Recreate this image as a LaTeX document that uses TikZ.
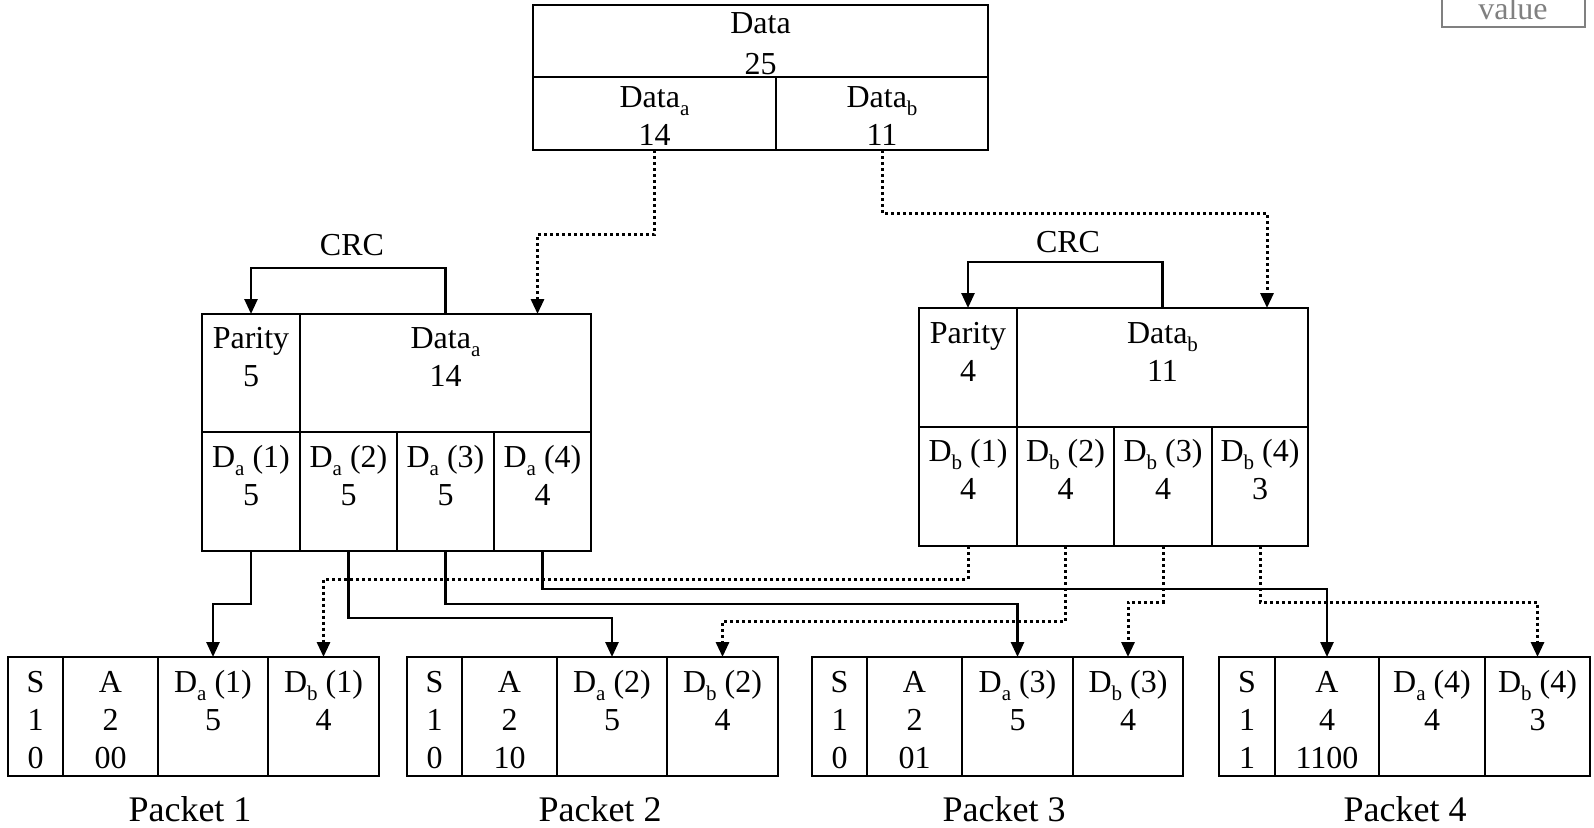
\documentclass[tikz,border=0pt]{standalone}
\usepackage{fontspec}
\setmainfont{Liberation Serif}
\usetikzlibrary{arrows.meta}

% a framed cell given by its top-left and bottom-right corners
\newcommand\cellbox[5]{\node[cell,minimum width={#4pt-#2pt},minimum height={#5pt-#3pt}] (#1) at (#2,#3) {};}
% centred cell text, placed by the baseline of its first line
\newcommand\celltext[4]{\node[txt] (#1) at (#2,#3) {\begin{tabular}[t]{@{}c@{}}#4\end{tabular}};}
% small lowered index letter
\newcommand\sbs[1]{\raisebox{-0.27em}{\fontsize{21}{21}\selectfont #1}}

\definecolor{legendgray}{HTML}{808080}

\tikzset{
  cell/.style={draw, line width=2.6pt, anchor=north west, inner sep=0pt, outer sep=0pt},
  txt/.style={anchor=base, inner sep=0pt, font=\fontsize{32}{38}\selectfont},
  pktlabel/.style={anchor=base, inner sep=0pt, font=\fontsize{36}{43}\selectfont},
  flow/.style={line width=2.6pt, -{Triangle[width=13pt,length=15pt]}},
  dots/.style={flow, line width=3pt, dash pattern=on 3pt off 3pt},
}

\begin{document}
\begin{tikzpicture}[x=1pt, y=-1pt]
\useasboundingbox (0,0) rectangle (1594,827);

% legend box in the corner
\node[draw=legendgray, line width=2pt, anchor=north west, inner sep=0pt, outer sep=0pt,
      minimum width=143pt, minimum height=34pt] (legend) at (1442,-7) {};
\node[txt, text=legendgray] (legendtext) at (1513,19) {value};

% ---- whole data block ----
\cellbox{tdata}{533}{5}{988}{77}
\cellbox{ta}{533}{77}{776}{150}
\cellbox{tb}{776}{77}{988}{150}
\celltext{tdataT}{760.5}{33}{Data\\[3pt]25}
\celltext{taT}{654.5}{107}{Data\sbs{a}\\14}
\celltext{tbT}{882}{107}{Data\sbs{b}\\11}

% ---- block a: parity + data, split in four ----
\cellbox{lp}{202}{314}{300}{432}
\cellbox{ld}{300}{314}{591}{432}
\cellbox{la1}{202}{432}{300}{551}
\cellbox{la2}{300}{432}{397}{551}
\cellbox{la3}{397}{432}{494}{551}
\cellbox{la4}{494}{432}{591}{551}
\celltext{lpT}{251}{348}{Parity\\5}
\celltext{ldT}{445.5}{348}{Data\sbs{a}\\14}
\celltext{la1T}{251}{467}{D\sbs{a} (1)\\5}
\celltext{la2T}{348.5}{467}{D\sbs{a} (2)\\5}
\celltext{la3T}{445.5}{467}{D\sbs{a} (3)\\5}
\celltext{la4T}{542.5}{467}{D\sbs{a} (4)\\4}
\node[txt] (crcA) at (352,255) {CRC};

% ---- block b: parity + data, split in four ----
\cellbox{rp}{919}{308}{1017}{427}
\cellbox{rd}{1017}{308}{1308}{427}
\cellbox{rb1}{919}{427}{1017}{546}
\cellbox{rb2}{1017}{427}{1114}{546}
\cellbox{rb3}{1114}{427}{1212}{546}
\cellbox{rb4}{1212}{427}{1308}{546}
\celltext{rpT}{968}{343}{Parity\\4}
\celltext{rdT}{1162.5}{343}{Data\sbs{b}\\11}
\celltext{rb1T}{968}{461}{D\sbs{b} (1)\\4}
\celltext{rb2T}{1065.5}{461}{D\sbs{b} (2)\\4}
\celltext{rb3T}{1163}{461}{D\sbs{b} (3)\\4}
\celltext{rb4T}{1260}{461}{D\sbs{b} (4)\\3}
\node[txt] (crcB) at (1068,252) {CRC};

% ---- packets ----
\cellbox{p1s}{8}{657}{63}{776}
\cellbox{p1a}{63}{657}{158}{776}
\cellbox{p1da}{158}{657}{268}{776}
\cellbox{p1db}{268}{657}{379}{776}
\celltext{p1sT}{35.5}{692}{S\\1\\0}
\celltext{p1aT}{110.5}{692}{A\\2\\00}
\celltext{p1daT}{213}{692}{D\sbs{a} (1)\\5}
\celltext{p1dbT}{323.5}{692}{D\sbs{b} (1)\\4}
\node[pktlabel] (p1L) at (190,821) {Packet 1};

\cellbox{p2s}{407}{657}{462}{776}
\cellbox{p2a}{462}{657}{557}{776}
\cellbox{p2da}{557}{657}{667}{776}
\cellbox{p2db}{667}{657}{778}{776}
\celltext{p2sT}{434.5}{692}{S\\1\\0}
\celltext{p2aT}{509.5}{692}{A\\2\\10}
\celltext{p2daT}{612}{692}{D\sbs{a} (2)\\5}
\celltext{p2dbT}{722.5}{692}{D\sbs{b} (2)\\4}
\node[pktlabel] (p2L) at (600,821) {Packet 2};

\cellbox{p3s}{812}{657}{867}{776}
\cellbox{p3a}{867}{657}{962}{776}
\cellbox{p3da}{962}{657}{1073}{776}
\cellbox{p3db}{1073}{657}{1183}{776}
\celltext{p3sT}{839.5}{692}{S\\1\\0}
\celltext{p3aT}{914.5}{692}{A\\2\\01}
\celltext{p3daT}{1017.5}{692}{D\sbs{a} (3)\\5}
\celltext{p3dbT}{1128}{692}{D\sbs{b} (3)\\4}
\node[pktlabel] (p3L) at (1004,821) {Packet 3};

\cellbox{p4s}{1219}{657}{1275}{776}
\cellbox{p4a}{1275}{657}{1379}{776}
\cellbox{p4da}{1379}{657}{1485}{776}
\cellbox{p4db}{1485}{657}{1590}{776}
\celltext{p4sT}{1247}{692}{S\\1\\1}
\celltext{p4aT}{1327}{692}{A\\4\\1100}
\celltext{p4daT}{1432}{692}{D\sbs{a} (4)\\4}
\celltext{p4dbT}{1537.5}{692}{D\sbs{b} (4)\\3}
\node[pktlabel] (p4L) at (1405,821) {Packet 4};

% ---- split of the data into the two blocks ----
\draw[dots] (ta.south) -- ++(0,84) -| ([xshift=92pt]ld.north);
\draw[dots] (tb.south) -- ++(0,63) -| ([xshift=104.5pt]rd.north);

% ---- CRC over each data part ----
\draw[flow] (ld.north) -- ++(0,-46) -| (lp.north);
\draw[flow] (rd.north) -- ++(0,-46) -| (rp.north);

% ---- pieces of block a into the packets ----
\draw[flow] (la1.south) -- ++(0,53) -| (p1da.north);
\draw[flow] (la2.south) -- ++(0,67) -| (p2da.north);
\draw[flow] (la3.south) -- ++(0,53) -| (p3da.north);
\draw[flow] (la4.south) -- ++(0,38) -| (p4a.north);

% ---- pieces of block b into the packets ----
\draw[dots] (rb1.south) -- ++(0,33) -| (p1db.north);
\draw[dots] (rb2.south) -- ++(0,75) -| (p2db.north);
\draw[dots] (rb3.south) -- ++(0,56) -| (p3db.north);
\draw[dots] (rb4.south) -- ++(0,56) -| (p4db.north);
\end{tikzpicture}
\end{document}
